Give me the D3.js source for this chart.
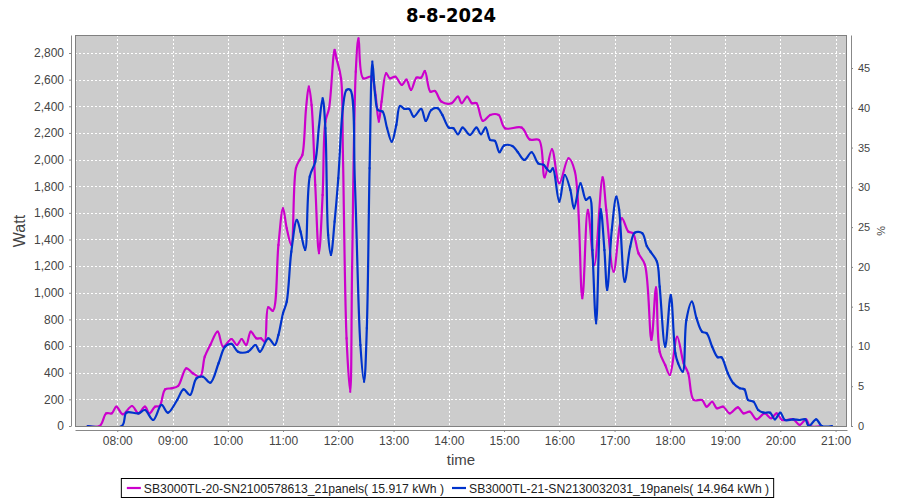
<!DOCTYPE html>
<html>
<head>
<meta charset="utf-8">
<script src="https://cdn.jsdelivr.net/npm/d3@7"></script>
<style>
  body { margin: 0; background: #fff; }
  svg { font-family: "Liberation Sans", "DejaVu Sans", sans-serif; }
</style>
</head>
<body>
<div id="graph"><svg></svg></div>
<script>
// series data (time of day, watt)
let titleText = "8-8-2024";
let seriesNames = [
  "SB3000TL-20-SN2100578613_21panels( 15.917 kWh )",
  "SB3000TL-21-SN2130032031_19panels( 14.964 kWh )"
];
let seriesColors = ["#cc00cc", "#0033cc"];

let times1 = ["07:28","07:41","07:48","07:54","07:59","08:06","08:16","08:23","08:30","08:35","08:41","08:46","08:52","08:59","09:06","09:15","09:22","09:30","09:35","09:41","09:49","09:55","10:04","10:10","10:15","10:20","10:25","10:31","10:36","10:40","10:44","10:49","10:55","11:00","11:04","11:09","11:14","11:18","11:21","11:25","11:28","11:31","11:35","11:39","11:43","11:46","11:50","11:56","11:58","12:03","12:05","12:09","12:13","12:15","12:19","12:22","12:27","12:36","12:40","12:44","12:47","12:52","12:56","13:02","13:09","13:14","13:19","13:25","13:30","13:34","13:40","13:45","13:52","14:03","14:10","14:14","14:20","14:25","14:30","14:37","14:45","14:54","15:01","15:19","15:28","15:38","15:44","15:52","16:00","16:10","16:17","16:25","16:31","16:38","16:47","16:51","16:59","17:08","17:15","17:20","17:26","17:33","17:40","17:45","17:49","17:55","18:00","18:08","18:15","18:20","18:26","18:35","18:40","18:46","18:51","18:58","19:05","19:14","19:20","19:27","19:34","19:43","19:50","19:56","20:02","20:14","20:21","20:28","20:32","20:45"];
let watts1 = [0,0,95,95,145,88,150,95,145,95,145,150,275,283,300,433,396,370,520,608,708,595,653,608,653,608,708,658,658,633,891,865,1359,1634,1484,1359,1935,1997,2035,2385,2548,2410,1809,1297,1734,2285,2385,2823,2760,2610,2059,658,258,1186,2660,2910,2610,2622,2510,2285,2435,2648,2610,2622,2560,2600,2522,2615,2615,2665,2510,2515,2435,2423,2472,2423,2472,2423,2423,2290,2335,2335,2235,2240,2150,2147,1867,2077,1822,2010,1909,959,1622,1209,1867,1622,1159,1559,1459,1447,1297,1210,646,1040,558,458,383,670,471,396,195,195,145,182,133,145,95,140,95,107,50,95,58,95,45,50,8,50,0,0];

let times2 = ["07:28","08:05","08:10","08:23","08:30","08:39","08:48","08:55","09:05","09:12","09:19","09:26","09:33","09:41","09:50","09:57","10:04","10:11","10:22","10:30","10:35","10:44","10:51","10:55","11:00","11:04","11:09","11:15","11:19","11:24","11:29","11:35","11:39","11:43","11:46","11:49","11:52","11:56","12:00","12:05","12:09","12:13","12:18","12:24","12:28","12:31","12:34","12:37","12:40","12:43","12:48","12:53","12:58","13:03","13:07","13:12","13:17","13:22","13:30","13:35","13:41","13:48","13:53","14:00","14:05","14:10","14:15","14:23","14:30","14:35","14:40","14:45","14:50","14:55","15:00","15:09","15:15","15:22","15:30","15:37","15:43","15:46","15:50","15:53","16:00","16:06","16:12","16:16","16:23","16:29","16:33","16:36","16:40","16:45","16:49","16:52","16:57","17:02","17:05","17:11","17:17","17:22","17:30","17:35","17:39","17:46","17:49","17:55","18:01","18:06","18:09","18:14","18:18","18:24","18:29","18:35","18:40","18:46","18:52","18:56","19:03","19:09","19:16","19:21","19:25","19:31","19:36","19:42","19:49","19:54","20:00","20:05","20:14","20:21","20:27","20:31","20:39","20:45","20:56"];
let watts2 = [0,0,100,95,120,45,158,100,195,275,233,358,370,325,471,595,616,558,558,608,558,658,608,683,846,933,1309,1547,1459,1321,1872,1984,2247,2460,2235,1434,1284,1534,1860,2385,2523,2523,1834,608,333,734,1935,2735,2485,2372,2360,2235,2134,2260,2402,2380,2380,2322,2380,2290,2372,2385,2335,2240,2235,2190,2240,2185,2240,2190,2240,2147,2140,2055,2105,2102,2055,1997,2055,1972,1960,1935,1909,1934,1684,1884,1772,1634,1822,1697,1717,1321,771,1627,1321,1021,1472,1722,1622,1083,1346,1451,1447,1351,1309,1234,1046,595,983,546,471,408,796,933,809,708,696,595,516,516,396,321,283,275,195,182,120,100,100,50,100,45,50,45,50,0,50,0,0];

let wattTicks = [0,200,400,600,800,1000,1200,1400,1600,1800,2000,2200,2400,2600,2800];
let pctTicks = [0,5,10,15,20,25,30,35,40,45];
let hourTicks = [8,9,10,11,12,13,14,15,16,17,18,19,20,21];

// plot area
let plot = { left: 75, right: 847, top: 35, bottom: 426 };

let svg = d3.select("div#graph svg").attr("width", 900).attr("height", 500);

let day = (h, m, s) => new Date(2024, 7, 8, h, m, s || 0);
let parseTime = (s) => { let p = s.split(":"); return day(+p[0], +p[1]); };

let xScale = d3.scaleTime()
  .domain([day(7, 14, 6), day(21, 12, 25)])
  .range([plot.left, plot.right]);
let yScale = d3.scaleLinear().domain([0, 2935]).range([plot.bottom, plot.top]);
let y2Scale = d3.scaleLinear().domain([0, 49.15]).range([plot.bottom, plot.top]);

// title
svg.append("text")
  .attr("x", 451).attr("y", 22)
  .attr("text-anchor", "middle")
  .style("font-family", "'DejaVu Sans Condensed', 'DejaVu Sans'")
  .style("font-weight", "bold")
  .style("font-size", "20px")
  .style("fill", "#000")
  .text(titleText);

// plot background
svg.append("rect")
  .attr("x", plot.left).attr("y", plot.top)
  .attr("width", plot.right - plot.left).attr("height", plot.bottom - plot.top)
  .style("fill", "#cccccc");

// gridlines
let grid = svg.append("g").style("stroke", "#fff").style("stroke-width", 1).style("stroke-dasharray", "2,2");
grid.selectAll("line.h").data(wattTicks.slice(1)).join("line")
  .attr("x1", plot.left).attr("x2", plot.right)
  .attr("y1", (d) => Math.round(yScale(d)) + 0.5).attr("y2", (d) => Math.round(yScale(d)) + 0.5);
grid.selectAll("line.v").data(hourTicks).join("line")
  .attr("y1", plot.top).attr("y2", plot.bottom)
  .attr("x1", (d) => Math.round(xScale(day(d, 0))) + 0.5).attr("x2", (d) => Math.round(xScale(day(d, 0))) + 0.5);

// lines
let line = d3.line()
  .x((d) => xScale(d.t))
  .y((d) => yScale(d.w))
  .curve(d3.curveCatmullRom.alpha(0.5));

let allSeries = [
  times1.map((t, i) => ({ t: parseTime(t), w: watts1[i] })),
  times2.map((t, i) => ({ t: parseTime(t), w: watts2[i] }))
];

let clip = svg.append("clipPath").attr("id", "plotclip").append("rect")
  .attr("x", plot.left).attr("y", plot.top)
  .attr("width", plot.right - plot.left).attr("height", plot.bottom - plot.top);

let lines = svg.append("g").attr("clip-path", "url(#plotclip)");
allSeries.forEach((s, i) => {
  lines.append("path")
    .datum(s)
    .attr("d", line)
    .style("fill", "none")
    .style("stroke", seriesColors[i])
    .style("stroke-width", 2.2)
    .style("stroke-linejoin", "round");
  lines.selectAll("rect.p" + i).data(s).join("rect")
    .attr("x", (d) => xScale(d.t) - 1)
    .attr("y", (d) => yScale(d.w) - 1)
    .attr("width", 2).attr("height", 2)
    .style("fill", seriesColors[i]);
});

// plot outline
svg.append("rect")
  .attr("x", plot.left + 0.5).attr("y", plot.top + 0.5)
  .attr("width", plot.right - plot.left - 1).attr("height", plot.bottom - plot.top)
  .style("fill", "none").style("stroke", "#808080");

// axes
function styleAxis(g) {
  g.select(".domain").style("stroke", "#888");
  g.selectAll(".tick line").style("stroke", "#888");
  g.selectAll(".tick text").style("fill", "#444").style("font-size", "12px");
}

svg.append("g")
  .attr("transform", "translate(71,0)")
  .call(d3.axisLeft(yScale).tickValues(wattTicks).tickSize(2).tickPadding(5).tickSizeOuter(0).tickFormat(d3.format(",")))
  .call(styleAxis);

svg.append("g")
  .attr("transform", "translate(0,430)")
  .call(d3.axisBottom(xScale).tickValues(hourTicks.map((h) => day(h, 0))).tickSize(2).tickPadding(4).tickSizeOuter(0).tickFormat(d3.timeFormat("%H:%M")))
  .call(styleAxis);

svg.append("g")
  .attr("transform", "translate(851,0)")
  .call(d3.axisRight(y2Scale).tickValues(pctTicks).tickSize(2).tickPadding(5).tickSizeOuter(0))
  .call(styleAxis)
  .selectAll(".tick text").style("font-size", "11px");

// axis titles
svg.append("text")
  .attr("transform", "translate(25,231) rotate(-90)")
  .attr("text-anchor", "middle")
  .style("font-size", "16px").style("fill", "#444")
  .text("Watt");
svg.append("text")
  .attr("x", 461).attr("y", 465)
  .attr("text-anchor", "middle")
  .style("font-size", "15px").style("fill", "#444")
  .text("time");
svg.append("text")
  .attr("transform", "translate(877,231) rotate(90)")
  .attr("text-anchor", "middle")
  .style("font-size", "11px").style("fill", "#444")
  .text("%");

// legend
let legend = svg.append("g");
let legendBox = legend.append("rect")
  .attr("y", 478.5).attr("height", 19)
  .style("fill", "#fff").style("stroke", "#000");
let lx = 0;
seriesNames.forEach((name, i) => {
  let g = legend.append("g").attr("data-off", lx);
  g.append("line").attr("x1", 0).attr("x2", 14).attr("y1", 488).attr("y2", 488)
    .style("stroke", seriesColors[i]).style("stroke-width", 2.2);
  g.append("rect").attr("x", 6).attr("y", 487).attr("width", 2).attr("height", 2).style("fill", seriesColors[i]);
  let t = g.append("text").attr("x", 17).attr("y", 492.5)
    .style("font-size", "12.2px").style("fill", "#222").text(name);
  lx += 17 + t.node().getComputedTextLength() + 8;
});
let legendWidth = lx - 8;
let legendLeft = 448 - legendWidth / 2;
legend.selectAll("g").attr("transform", function () {
  return "translate(" + (legendLeft + +d3.select(this).attr("data-off")) + ",0)";
});
legendBox.attr("x", legendLeft - 5.5).attr("width", legendWidth + 10);
</script>
</body>
</html>
